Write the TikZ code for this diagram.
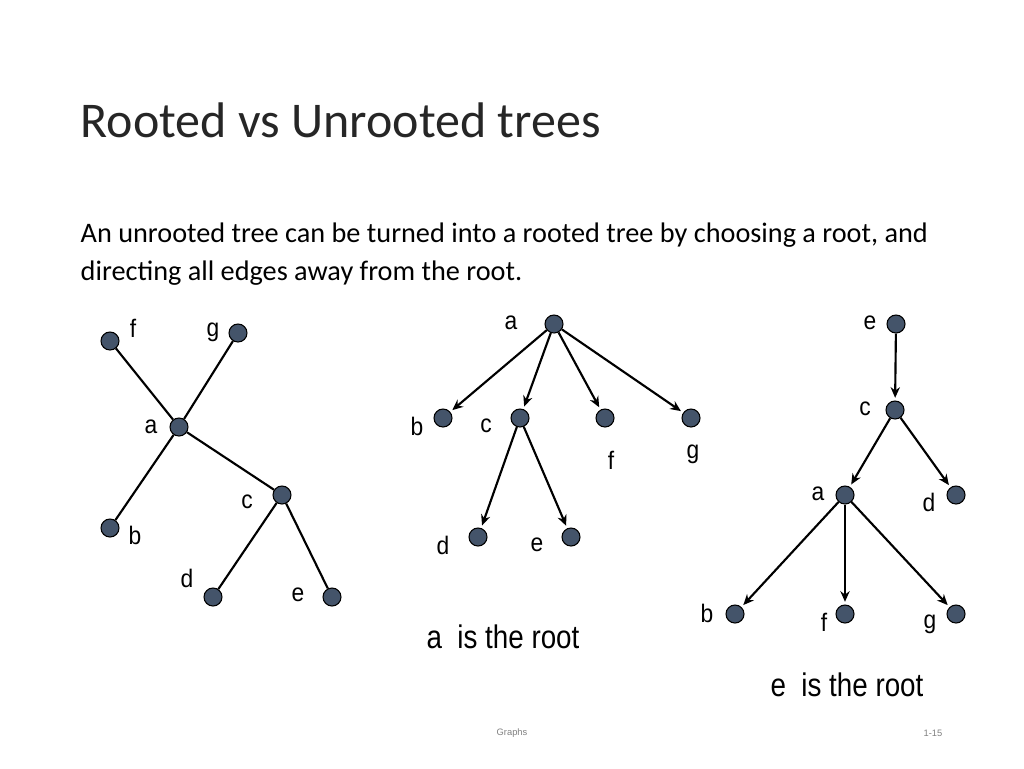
\documentclass[tikz,border=0pt]{standalone}
\usepackage{fontspec}
\setmainfont{Carlito}
\newfontfamily\lab{Liberation Sans}
\usetikzlibrary{arrows.meta}
\definecolor{nd}{RGB}{68,84,106}
\begin{document}
\begin{tikzpicture}[x=0.75pt,y=-0.75pt,
  v/.style={circle,draw=black,line width=0.8pt,fill=nd,minimum size=13.5pt,inner sep=0pt},
  lb/.style={font=\lab\fontsize{19}{19}\selectfont,xscale=0.9},
  ed/.style={line width=1.6pt},
  ar/.style={line width=1.6pt,-{Stealth[length=8pt,width=7pt]},shorten >=2pt}]
\useasboundingbox (0,0) rectangle (1024,768);
\node[anchor=west,font=\fontsize{37.5}{37.5}\selectfont,text=black!85] (title) at (76,120) {Rooted vs Unrooted trees};
\node[anchor=west,font=\fontsize{21.2}{28.5}\selectfont,align=left] (body) at (76,254) {An unrooted tree can be turned into a rooted tree by choosing a root, and\\directing all edges away from the root.};
% left
\node[v] (Lf) at (110,341) {}; \node[v] (Lg) at (238,333) {};
\node[v] (La) at (179,427) {}; \node[v] (Lb) at (110,528) {};
\node[v] (Lc) at (282,495) {}; \node[v] (Ld) at (213,597) {};
\node[v] (Le) at (332,597) {};
\draw[ed] (Lf)--(La) (Lg)--(La) (La)--(Lb) (La)--(Lc) (Lc)--(Ld) (Lc)--(Le);
\node[lb] (tLf) at (133,328) {f}; \node[lb] (tLg) at (213,332) {g};
\node[lb] (tLa) at (151,427) {a}; \node[lb] (tLb) at (135,535) {b};
\node[lb] (tLc) at (247,502) {c}; \node[lb] (tLd) at (187,578) {d};
\node[lb] (tLe) at (298,595) {e};
% middle
\node[v] (Ma) at (554,324) {}; \node[v] (Mb) at (443,418) {};
\node[v] (Mc) at (520,418) {}; \node[v] (Mf) at (605,418) {};
\node[v] (Mg) at (691,418) {}; \node[v] (Md) at (478,537) {};
\node[v] (Me) at (571,537) {};
\draw[ar] (Ma)--(Mb); \draw[ar] (Ma)--(Mc); \draw[ar] (Ma)--(Mf); \draw[ar] (Ma)--(Mg);
\draw[ar] (Mc)--(Md); \draw[ar] (Mc)--(Me);
\node[lb] (tMa) at (511,323) {a}; \node[lb] (tMb) at (417,426) {b};
\node[lb] (tMc) at (486,426) {c}; \node[lb] (tMf) at (611,460) {f};
\node[lb] (tMg) at (693,454) {g}; \node[lb] (tMd) at (443,545) {d};
\node[lb] (tMe) at (537,545) {e};
\node[font=\lab\fontsize{24.5}{24.5}\selectfont,xscale=0.85] (capM) at (503,637) {a\ \ is the root};
% right
\node[v] (Re) at (896,324) {}; \node[v] (Rc) at (895,410) {};
\node[v] (Rd) at (956,495) {}; \node[v] (Ra) at (845,495) {};
\node[v] (Rb) at (735,614) {}; \node[v] (Rf) at (845,614) {};
\node[v] (Rg) at (956,614) {};
\draw[ar] (Re)--(Rc); \draw[ar] (Rc)--(Ra); \draw[ar] (Rc)--(Rd);
\draw[ar] (Ra)--(Rb); \draw[ar] (Ra)--(Rf); \draw[ar] (Ra)--(Rg);
\node[lb] (tRe) at (870,323) {e}; \node[lb] (tRc) at (865,409) {c};
\node[lb] (tRa) at (818,494) {a}; \node[lb] (tRd) at (929,502) {d};
\node[lb] (tRb) at (707,613) {b}; \node[lb] (tRf) at (824,622) {f};
\node[lb] (tRg) at (930,624) {g};
\node[font=\lab\fontsize{24.5}{24.5}\selectfont,xscale=0.85] (capR) at (847,685) {e\ \ is the root};
\node[font=\lab\fontsize{7}{7}\selectfont,gray] (foot) at (512,733) {Graphs};
\node[font=\lab\fontsize{7}{7}\selectfont,gray] (pg) at (933,733) {1-15};
\end{tikzpicture}
\end{document}
